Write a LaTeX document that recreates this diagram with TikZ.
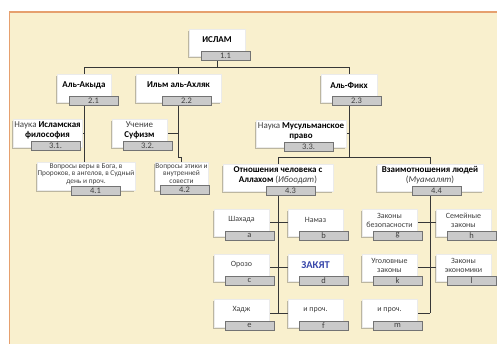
\documentclass[tikz,border=0pt]{standalone}
\usepackage{fontspec}
\setmainfont{Carlito}
\usetikzlibrary{shadows,backgrounds,calc}
\definecolor{bgc}{RGB}{249,240,206}
\definecolor{framec}{RGB}{230,160,110}
\definecolor{barfill}{RGB}{202,202,202}
\definecolor{barline}{RGB}{115,115,115}
\definecolor{txt}{RGB}{64,64,64}
\definecolor{zak}{RGB}{55,70,170}
\definecolor{conc}{RGB}{55,55,55}
\tikzset{
  wbox/.style={fill=white, draw=black!8, line width=0.3bp, inner sep=0pt,
    drop shadow={shadow xshift=-1.4bp, shadow yshift=-1.6bp, opacity=0.35, fill=black!70}},
  wtext/.style={align=center, inner sep=0pt, font=\fontsize{9}{10}\selectfont},
  smalltext/.style={align=center, inner sep=0pt, text=txt, font=\fontsize{7.4}{7.6}\selectfont},
  leaftext/.style={align=center, inner sep=0pt, text=txt, font=\fontsize{8}{9}\selectfont},
  barbox/.style={draw=barline, fill=barfill, line width=0.6bp, inner sep=0pt,
    minimum width=49bp, minimum height=9bp, text=txt, font=\fontsize{8.5}{9}\selectfont},
  conn/.style={draw=conc, line width=1bp}
}
% name, x1, y1, x2, y2, bar x1, bar y1, text style, text, label
\newcommand{\unitbox}[9]{%
  \pgfmathsetmacro\ucx{(#2+#4)/2}%
  \pgfmathsetmacro\ucy{(#3+#5)/2}%
  \pgfmathsetmacro\uww{#4-#2}%
  \pgfmathsetmacro\uhh{#5-#3}%
  \pgfmathsetmacro\uty{(#3+#7)/2}%
  \pgfmathsetmacro\ubx{#6+24.5}%
  \pgfmathsetmacro\uby{#7+4.5}%
  \node[wbox, minimum width=\uww bp, minimum height=\uhh bp] (#1) at (\ucx,\ucy) {};
  \node[#8] (#1-t) at (\ucx,\uty) {#9};
  \unitbar{#1}}
\newcommand{\unitbar}[2]{\node[barbox] (#1-b) at (\ubx,\uby) {#2};}
\begin{document}
\begin{tikzpicture}[x=1bp,y=-1bp]
\useasboundingbox (0,0) rectangle (497,343);
\clip (0,0) rectangle (497,343);
\begin{scope}[on background layer]
  \fill[white] (0,0) rectangle (497,343);
  \draw[draw=framec, fill=bgc, line width=1.3bp] (9.5,12) rectangle (530,380);
\end{scope}

% level 1-2
\unitbox{islam}{189}{29}{245}{56}{201}{51}{wtext}{\textbf{ИСЛАМ}}{1.1}
\unitbox{akyda}{57}{74}{111}{102}{69}{96}{wtext}{\textbf{Аль-Акыда}}{2.1}
\unitbox{ahlak}{136}{74}{221}{102}{162}{96}{wtext}{\textbf{Ильм аль-Ахляк}}{2.2}
\unitbox{fikh}{321}{74}{377}{102}{332}{96}{wtext}{\textbf{Аль-Фикх}}{2.3}
% level 3
\unitbox{phil}{13}{119}{82}{147}{31}{141}{wtext}{{\color{txt}Наука} \textbf{Исламская}\\\textbf{философия}}{3.1.}
\unitbox{sufi}{112}{119}{167}{147}{123}{141}{wtext}{{\color{txt}Учение}\\\textbf{Суфизм}}{3.2.}
\unitbox{pravo}{256}{120}{346}{147}{284}{142}{wtext}{{\color{txt}Наука} \textbf{Мусульманское}\\\textbf{право}}{3.3.}
% level 4
\unitbox{f41}{37}{162}{135}{190}{71}{186}{smalltext}{Вопросы веры в Бога, в\\Пророков, в ангелов, в Судный\\день и проч.}{4.1}
\unitbox{f42}{155}{162}{208}{190}{160}{185}{smalltext}{Вопросы этики и\\внутренней\\совести}{4.2}
\unitbox{f43}{223}{164}{333}{191}{266}{186}{wtext}{\textbf{Отношения человека с}\\\textbf{Аллахом} {\color{txt}(\textit{Ибоодат})}}{4.3}
\unitbox{f44}{377}{164}{483}{191}{412}{186}{wtext}{\textbf{Взаимотношения людей}\\{\color{txt}(\textit{Муамалят})}}{4.4}
% level 5, left group
\unitbox{la}{214}{209}{269}{236}{225}{231}{leaftext}{Шахада}{a}
\unitbox{lb}{288}{209}{343}{236}{299}{231}{leaftext}{Намаз}{b}
\unitbox{lc}{214}{254}{269}{281}{225}{276}{leaftext}{Орозо}{c}
\unitbox{ld}{288}{254}{343}{281}{299}{276}{leaftext}{{\fontsize{10.5}{11}\selectfont\bfseries\color{zak}ЗАКЯТ}}{d}
\unitbox{le}{214}{299}{269}{327}{225}{321}{leaftext}{Хадж}{e}
\unitbox{lf}{288}{299}{343}{327}{299}{321}{leaftext}{и проч.}{f}
% level 5, right group
\unitbox{rg}{362}{209}{417}{236}{373}{231}{leaftext}{Законы\\безопасности}{g}
\unitbox{rh}{436}{209}{491}{236}{447}{231}{leaftext}{Семейные\\законы}{h}
\unitbox{rk}{362}{254}{417}{281}{373}{276}{leaftext}{Уголовные\\законы}{k}
\unitbox{rl}{436}{254}{491}{281}{447}{276}{leaftext}{Законы\\экономики}{l}
\unitbox{rm}{362}{299}{417}{327}{373}{321}{leaftext}{и проч.}{m}

\coordinate (ya) at (0,67.5);
\coordinate (yb) at (0,157);
\coordinate (yc) at (0,157);
\begin{scope}[on background layer]
  \draw[conn] (islam.center) -- (islam.center |- ya);
  \draw[conn] (akyda.center) |- (ya -| fikh.center) -- (fikh.center);
  \draw[conn] (ahlak.center) -- (ahlak.center |- ya);
  % Al-Akyda branch
  \draw[conn] (akyda.center) -- (akyda.center |- f41.center);
  \draw[conn] (phil.center) -- (phil.center -| akyda.center);
  % Ilm al-Akhlaq branch
  \draw[conn] (ahlak.center) -- (ahlak.center |- yb) -| (f42.center);
  \draw[conn] (sufi.center) -- (sufi.center -| ahlak.center);
  % Al-Fiqh branch
  \draw[conn] (fikh.center) -- (fikh.center |- yc);
  \draw[conn] (f43.center) |- (yc -| f44.center) -- (f44.center);
  \draw[conn] (pravo.center) -- (pravo.center -| fikh.center);
  % Ibadat
  \draw[conn] (f43.center) -- (f43.center |- le.center);
  \draw[conn] (la.center) -- (lb.center);
  \draw[conn] (lc.center) -- (ld.center);
  \draw[conn] (le.center) -- (lf.center);
  % Muamalat
  \draw[conn] (f44.center) -- (f44.center |- rm.center);
  \draw[conn] (rg.center) -- (rh.center);
  \draw[conn] (rk.center) -- (rl.center);
  \draw[conn] (rm.center) -- (rm.center -| f44.center);
\end{scope}
\end{tikzpicture}
\end{document}
